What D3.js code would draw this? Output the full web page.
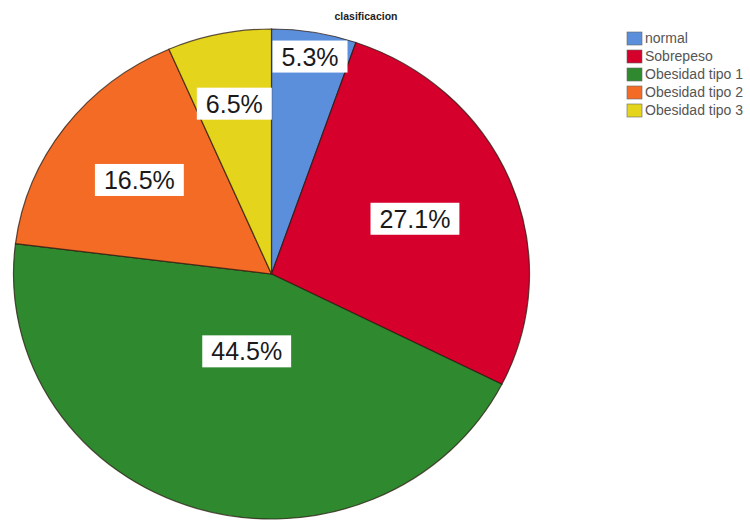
<!DOCTYPE html>
<html>
<head>
<meta charset="utf-8">
<script src="https://cdn.jsdelivr.net/npm/d3@7"></script>
<style>
  html, body { margin: 0; padding: 0; background: #fff; }
  svg { display: block; }
</style>
</head>
<body>
<svg id="chart" width="750" height="523"></svg>
<script>
// Categories and their share of the total (percent)
const categories = ["normal", "Sobrepeso", "Obesidad tipo 1", "Obesidad tipo 2", "Obesidad tipo 3"];
const percents = [5.3, 27.1, 44.5, 16.5, 6.5];
const colors = ["#5b8fdb", "#d6002c", "#2f8a2f", "#f36b25", "#e5d41c"];
const title = "clasificacion";

// Where each percentage label sits along its slice's bisector (fraction of radius)
const labelRadius = [0.9, 0.6, 0.33, 0.64, 0.71];

const W = 750, H = 523;
const cx = 271.5, cy = 274;
const ry = 245, rx = 258;
const sx = rx / ry;

const svg = d3.select("#chart");

const pie = d3.pie().sort(null).value(d => d)(percents);
const arc = d3.arc().innerRadius(0).outerRadius(ry);

const pieG = svg.append("g")
  .attr("transform", `translate(${cx},${cy}) scale(${sx},1)`);

pieG.selectAll("path")
  .data(pie)
  .join("path")
  .attr("d", arc)
  .attr("fill", (d, i) => colors[i])
  .attr("stroke", "#2a1a10")
  .attr("stroke-width", 1.2)
  .attr("stroke-opacity", 0.75)
  .attr("vector-effect", "non-scaling-stroke");

// Percentage labels in white boxes
const labelG = svg.append("g").attr("transform", `translate(${cx},${cy})`);
pie.forEach((d, i) => {
  const k = labelRadius[i] * ry;
  const c = d3.arc().innerRadius(k).outerRadius(k).centroid(d);
  const x = c[0] * sx, y = c[1];
  const g = labelG.append("g").attr("transform", `translate(${x},${y})`);
  const rect = g.append("rect").attr("fill", "#fff");
  const t = g.append("text")
    .attr("text-anchor", "middle")
    .attr("dy", "0.36em")
    .attr("font-family", "'Liberation Sans', Arial, sans-serif")
    .attr("font-size", 25)
    .attr("fill", "#1a1a1a")
    .text(d3.format(".1f")(percents[i]) + "%");
  const bb = t.node().getBBox();
  const padX = 9, h = 32;
  rect.attr("x", bb.x - padX).attr("y", -h / 2)
    .attr("width", bb.width + 2 * padX).attr("height", h);
});

// Title
svg.append("text")
  .attr("x", 366).attr("y", 20)
  .attr("text-anchor", "middle")
  .attr("font-family", "'Liberation Sans', Arial, sans-serif")
  .attr("font-weight", "bold")
  .attr("font-size", 10.5)
  .attr("fill", "#222")
  .text(title);

// Legend
const legend = svg.append("g").attr("transform", "translate(627,32)");
const rowH = 18;
const rows = legend.selectAll("g")
  .data(categories)
  .join("g")
  .attr("transform", (d, i) => `translate(0,${i * rowH})`);
rows.append("rect")
  .attr("width", 15).attr("height", 13)
  .attr("fill", (d, i) => colors[i])
  .attr("stroke", "#666").attr("stroke-width", 0.6);
rows.append("text")
  .attr("x", 18).attr("y", 11)
  .attr("font-family", "'Liberation Sans', Arial, sans-serif")
  .attr("font-size", 14)
  .attr("fill", "#555")
  .text(d => d);
</script>
</body>
</html>
